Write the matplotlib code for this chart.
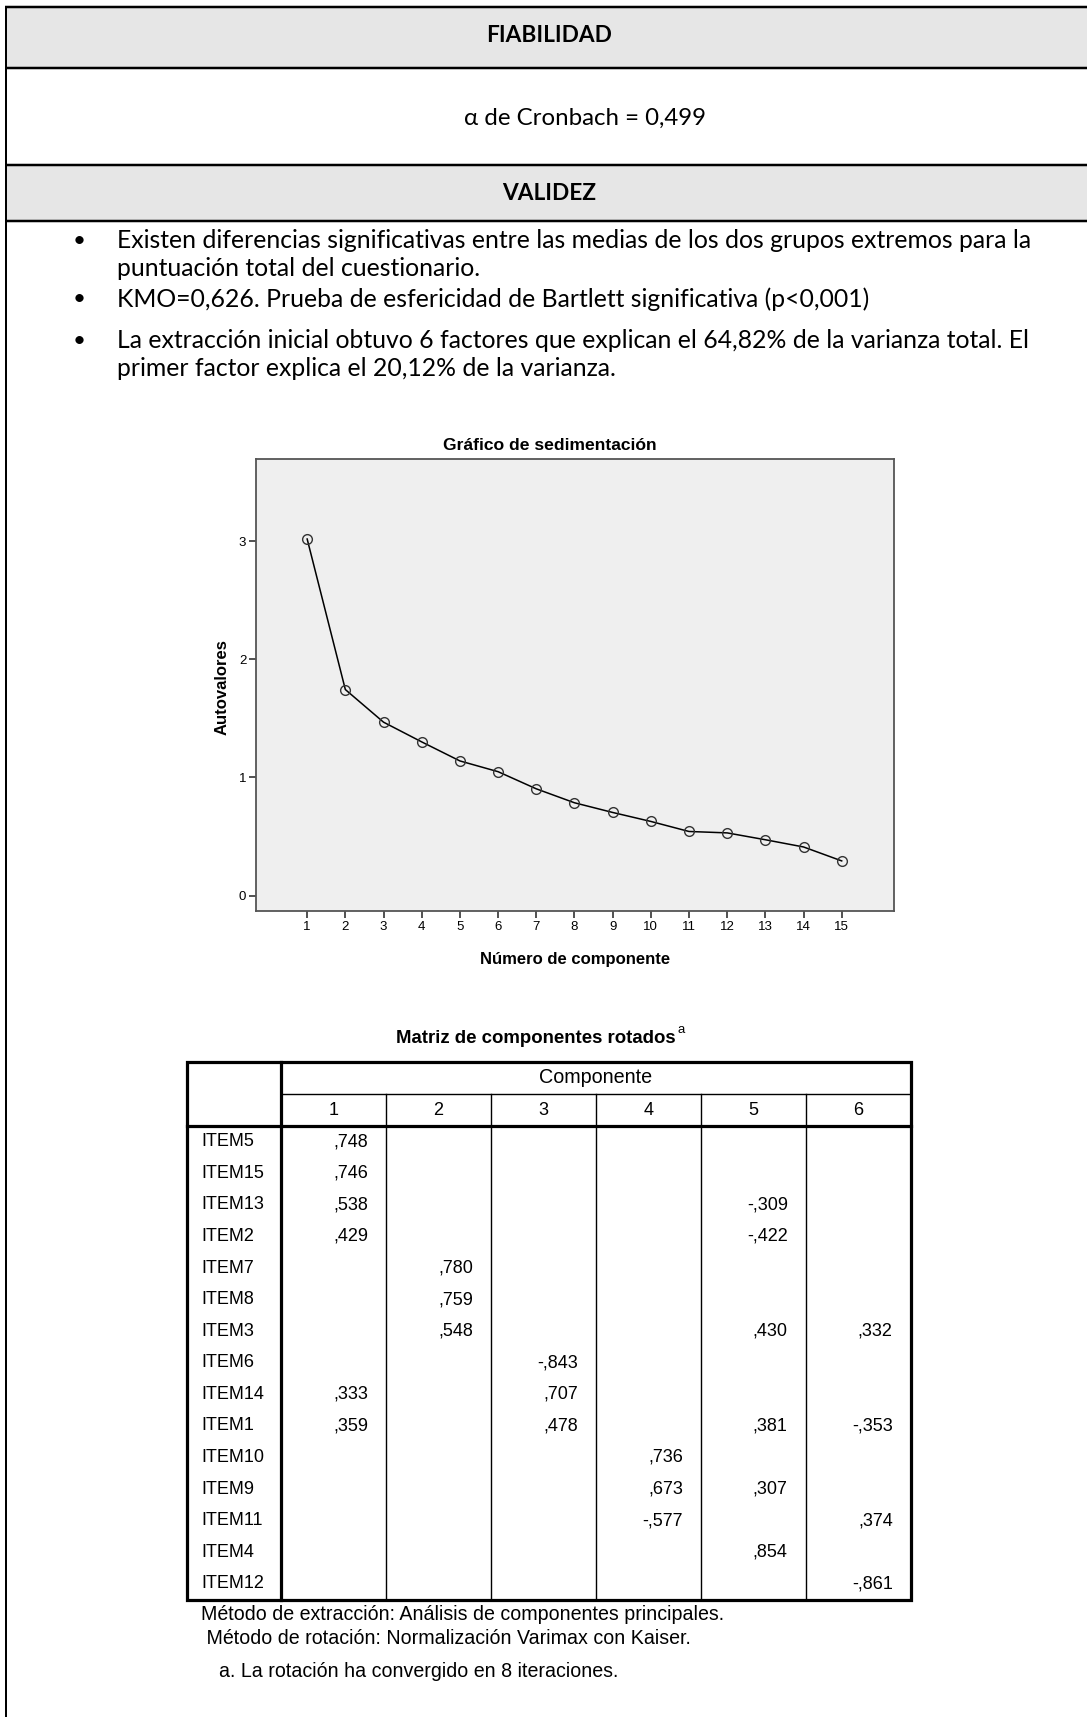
import numpy as np
import matplotlib
matplotlib.use("Agg")
import matplotlib.pyplot as plt
from matplotlib.patches import Rectangle

W, H = 1087, 1717

# eigenvalues of the scree plot
components = np.arange(1, 16)
eigenvalues = [3.018, 1.744, 1.468, 1.301, 1.140, 1.049, 0.904, 0.786,
               0.704, 0.628, 0.543, 0.531, 0.473, 0.412, 0.294]

# rotated component matrix (None = blank cell)
items = ["ITEM5", "ITEM15", "ITEM13", "ITEM2", "ITEM7", "ITEM8", "ITEM3", "ITEM6",
         "ITEM14", "ITEM1", "ITEM10", "ITEM9", "ITEM11", "ITEM4", "ITEM12"]
loadings = [
    [0.748, None, None, None, None, None],
    [0.746, None, None, None, None, None],
    [0.538, None, None, None, -0.309, None],
    [0.429, None, None, None, -0.422, None],
    [None, 0.780, None, None, None, None],
    [None, 0.759, None, None, None, None],
    [None, 0.548, None, None, 0.430, 0.332],
    [None, None, -0.843, None, None, None],
    [0.333, None, 0.707, None, None, None],
    [0.359, None, 0.478, None, 0.381, -0.353],
    [None, None, None, 0.736, None, None],
    [None, None, None, 0.673, 0.307, None],
    [None, None, None, -0.577, None, 0.374],
    [None, None, None, None, 0.854, None],
    [None, None, None, None, None, -0.861],
]
comp_labels = ["1", "2", "3", "4", "5", "6"]

alpha_text = "α de Cronbach = 0,499"
bullets = [
    ["Existen diferencias significativas entre las medias de los dos grupos extremos para la",
     "puntuación total del cuestionario."],
    ["KMO=0,626. Prueba de esfericidad de Bartlett significativa (p<0,001)"],
    ["La extracción inicial obtuvo 6 factores que explican el 64,82% de la varianza total. El",
     "primer factor explica el 20,12% de la varianza."],
]
footnotes = ["Método de extracción: Análisis de componentes principales.",
             " Método de rotación: Normalización Varimax con Kaiser.",
             "a. La rotación ha convergido en 8 iteraciones."]


def spss_fmt(v):
    s = "%.3f" % v
    return s.replace("0.", ",", 1)


def px(w):
    # pixel width -> points at 100 dpi
    return w * 0.72


plt.rcParams["font.family"] = ["Liberation Sans", "DejaVu Sans"]
doc_font = ["Lato", "DejaVu Sans"]

fig = plt.figure(figsize=(W / 100, H / 100), dpi=100)
page = fig.add_axes([0, 0, 1, 1])
page.set_xlim(0, W)
page.set_ylim(H, 0)
page.axis("off")

# document frame with grey header bands
for y0, y1 in [(7, 68), (165, 221)]:
    page.add_patch(Rectangle((5, y0), W, y1 - y0, facecolor="#e6e6e6", edgecolor="none"))
for y in [7, 68, 165, 221]:
    page.plot([5, W], [y, y], color="black", lw=px(2.5), solid_capstyle="butt")
page.plot([5.5, 5.5], [7, H], color="black", lw=px(2), solid_capstyle="butt")

page.text(549, 36, "FIABILIDAD", family=doc_font, fontsize=16.3, fontweight="bold",
          ha="center", va="center")
page.text(585, 118, alpha_text, family=doc_font, fontsize=17.3, ha="center", va="center")
page.text(549, 194, "VALIDEZ", family=doc_font, fontsize=16.3, fontweight="bold",
          ha="center", va="center")

line_y = [[241, 268], [299], [340.5, 369]]
for para, ys in zip(bullets, line_y):
    page.text(79, ys[0], "•", family=doc_font, fontsize=16, ha="center", va="center")
    for line, y in zip(para, ys):
        page.text(117, y, line, family=doc_font, fontsize=17.85, ha="left", va="center")

# scree plot
ax_l, ax_r, ax_t, ax_b = 256, 894, 459, 911
ax = fig.add_axes([ax_l / W, 1 - ax_b / H, (ax_r - ax_l) / W, (ax_b - ax_t) / H])
ax.set_facecolor("#efefef")
ax.plot(components, eigenvalues, color="black", lw=1.1, marker="o", ms=7,
        mfc="none", mec="#333333", mew=1.0)
ax.set_xlim(-0.34, 16.37)
ax.set_ylim(-0.13, 3.695)
ax.set_xticks(components)
ax.set_yticks([0, 1, 2, 3])
ax.tick_params(direction="out", length=5, width=1.2, color="#333333",
               labelsize=9.5, pad=2)
for s in ax.spines.values():
    s.set_color("#555555")
    s.set_linewidth(1.3)

page.text(550, 445, "Gráfico de sedimentación", fontsize=12.6, fontweight="bold",
          ha="center", va="center")
page.text(575, 959, "Número de componente", fontsize=12, fontweight="bold",
          ha="center", va="center")
page.text(222, 687, "Autovalores", fontsize=12, fontweight="bold", rotation=90,
          ha="center", va="center")

# rotated component matrix
tx0, tx1 = 187.3, 910.7
ty0, ty_comp, ty_head, ty1 = 1061.5, 1094, 1126, 1599.5
col0 = 281
cw = (tx1 - col0) / len(comp_labels)
rh = (ty1 - ty_head) / len(items)
thick, thin = px(3.2), px(1.4)
fs = 13

title = page.text(536, 1038, "Matriz de componentes rotados", fontsize=13.4,
                  fontweight="bold", ha="center", va="center")
page.annotate("a", xy=(1, 1), xycoords=title, xytext=(1, 0), textcoords="offset points",
              fontsize=9.5, ha="left", va="center")

page.plot([col0, tx1], [ty_comp, ty_comp], color="black", lw=thin)
for j in range(1, len(comp_labels)):
    x = col0 + j * cw
    page.plot([x, x], [ty_comp, ty1], color="black", lw=thin)
page.plot([tx0, tx1], [ty_head, ty_head], color="black", lw=thick)
page.plot([col0, col0], [ty0, ty1], color="black", lw=thick)
page.add_patch(Rectangle((tx0, ty0), tx1 - tx0, ty1 - ty0, facecolor="none",
                         edgecolor="black", lw=thick))

page.text((col0 + tx1) / 2, (ty0 + ty_comp) / 2, "Componente", fontsize=14.2,
          ha="center", va="center")
for j, lab in enumerate(comp_labels):
    page.text(col0 + (j + 0.5) * cw, (ty_comp + ty_head) / 2, lab, fontsize=fs,
              ha="center", va="center")

for i, (item, row) in enumerate(zip(items, loadings)):
    yc = ty_head + (i + 0.5) * rh
    page.text(tx0 + 14, yc, item, fontsize=fs, ha="left", va="center")
    for j, v in enumerate(row):
        if v is None:
            continue
        page.text(col0 + (j + 1) * cw - 18, yc, spss_fmt(v), fontsize=fs,
                  ha="right", va="center")

for (fx, fy), note in zip([(201, 1614), (201, 1638), (219, 1671)], footnotes):
    page.text(fx, fy, note, fontsize=14.1, ha="left", va="center")

fig.savefig("out.png", dpi=100)
